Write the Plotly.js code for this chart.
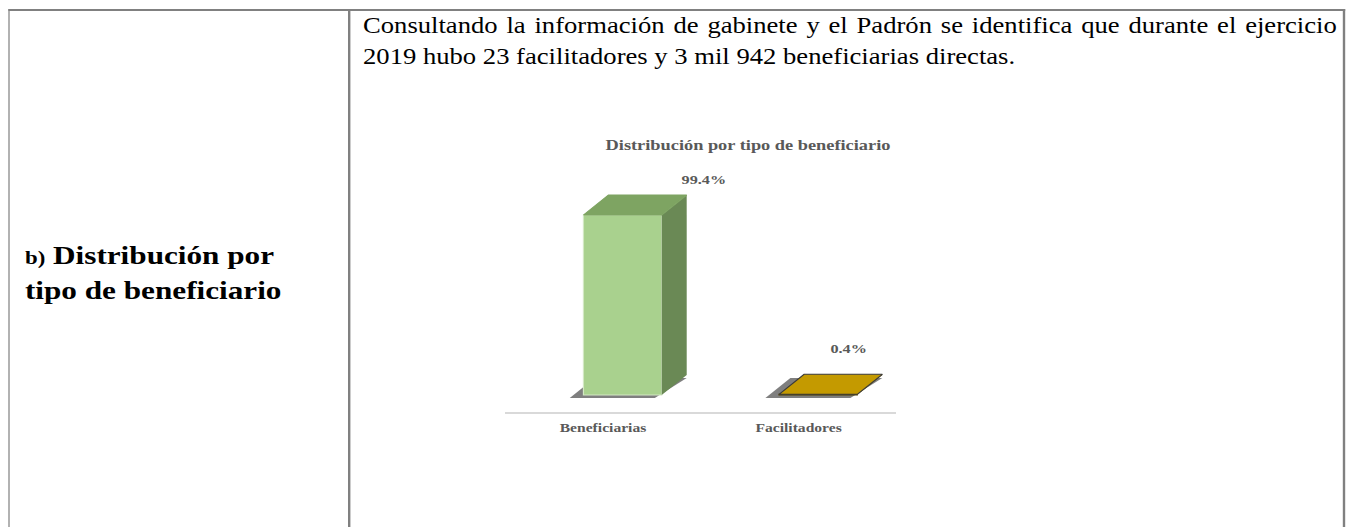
<!DOCTYPE html>
<html>
<head>
<meta charset="utf-8">
<script src="https://cdn.plot.ly/plotly-3.0.1.min.js"></script>
<style>
  html, body { margin: 0; padding: 0; background: #fff; overflow: hidden; }
  #page { position: absolute; left: 0; top: 0; width: 1128px; height: 527px;
          transform: scaleX(1.2); transform-origin: 0 0; font-family: "Liberation Serif", "Times New Roman", serif; }
  .hline { position: absolute; background: #808080; }
  #para { position: absolute; left: 302.5px; top: 9.5px; width: 811.5px; font-size: 22.2px; line-height: 31.7px;
          text-align: justify; color: #000; }
  #side { position: absolute; left: 20.8px; top: 239px; font-size: 26px; line-height: 33px; font-weight: bold; color: #000; }
  #side .small { font-size: 19px; }
  #chart { position: absolute; left: 400px; top: 120px; width: 370px; height: 330px; }
</style>
</head>
<body>
<div id="page">
  <div class="hline" style="left:7px; top:9px; width:1114px; height:2px;"></div>
  <div class="hline" style="left:6.7px; top:9px; width:1.7px; height:520px;"></div>
  <div class="hline" style="left:289.9px; top:9px; width:1.7px; height:520px;"></div>
  <div class="hline" style="left:1119.3px; top:9px; width:1.7px; height:520px;"></div>
  <div id="para">Consultando la información de gabinete y el Padrón se identifica que durante el ejercicio 2019 hubo 23 facilitadores y 3 mil 942 beneficiarias directas.</div>
  <div id="side"><span class="small">b)</span> Distribución por<br>tipo de beneficiario</div>
  <div id="chart"></div>
</div>
<script>
// datos
var categorias = ['Beneficiarias', 'Facilitadores'];
var porcentajes = [99.4, 0.4];
var etiquetas = ['99.4%', '0.4%'];

// estilo
var colorFrente = ['#A9D18E', '#C49A00'];
var colorBordeFrente = ['#D3E8C4', '#4a3c00'];
var colorLado = ['#6A8955', '#7d6300'];
var colorArriba = ['#7EA462', '#C49A00'];
var colorBordeArriba = ['#7EA462', '#3a3a3a'];
var desplX = [68, 25];
var desplY = [36, 46];
var IZQ = -0.1, DER = 0.3, PROF_X = 0.128, PROF_Y = 11;
var fuente = '"Liberation Serif", "Times New Roman", serif';

var idx = categorias.map(function (c, i) { return i; });

var data = [{
    x: idx.map(function (i) { return i + (IZQ + DER) / 2; }),
    y: porcentajes,
    type: 'bar',
    width: DER - IZQ,
    marker: { color: colorFrente, line: { color: colorBordeFrente, width: 1 } },
    hoverinfo: 'skip'
}];

var shapes = [];
idx.forEach(function (i) {
    var v = porcentajes[i];
    var x0 = i + IZQ, x1 = i + DER;
    // lado derecho
    data.push({
        x: [x1, x1, x1 + PROF_X, x1 + PROF_X, x1],
        y: [0, v, v + PROF_Y, PROF_Y, 0],
        type: 'scatter', mode: 'lines', fill: 'toself',
        fillcolor: colorLado[i], line: { width: 0 }, hoverinfo: 'skip'
    });
    // cara superior
    data.push({
        x: [x0, x1, x1 + PROF_X, x0 + PROF_X, x0],
        y: [v, v, v + PROF_Y, v + PROF_Y, v],
        type: 'scatter', mode: 'lines', fill: 'toself',
        fillcolor: colorArriba[i], line: { width: 1, color: colorBordeArriba[i] }, hoverinfo: 'skip'
    });
    // sombra de la base
    var s = 0.07, d = 1.6;
    shapes.push({
        type: 'path', xref: 'x', yref: 'y', layer: 'below',
        path: 'M' + (x0 - s) + ',' + (-d) + ' L' + (x1 - s / 2) + ',' + (-d) +
              ' L' + (x1 + PROF_X) + ',' + (PROF_Y - d) + ' L' + (x0 + PROF_X - s) + ',' + (PROF_Y - d) + ' Z',
        fillcolor: 'rgba(0,0,0,0.5)', line: { width: 0 }
    });
});

var anotaciones = idx.map(function (i) {
    return {
        x: i + (IZQ + DER) / 2, y: porcentajes[i], xref: 'x', yref: 'y',
        text: etiquetas[i], showarrow: false, xshift: desplX[i], yshift: desplY[i],
        font: { family: fuente, size: 13.5, color: '#595959', weight: 'bold' }
    };
});

var layout = {
    width: 370, height: 330,
    margin: { l: 20.8, r: 22.5, t: 30, b: 38 },
    paper_bgcolor: 'rgba(0,0,0,0)', plot_bgcolor: 'rgba(0,0,0,0)',
    showlegend: false,
    title: {
        text: 'Distribución por tipo de beneficiario',
        x: 0.6036, xref: 'container', xanchor: 'center',
        y: 0.9242, yref: 'container', yanchor: 'middle',
        font: { family: fuente, size: 15.3, color: '#595959', weight: 'bold' }
    },
    xaxis: {
        range: [-0.5, 1.5], tickvals: idx, ticktext: categorias,
        showline: true, linecolor: '#d9d9d9', linewidth: 1.5,
        showgrid: false, zeroline: false, ticks: '', ticklabelstandoff: 3,
        tickfont: { family: fuente, size: 13, color: '#595959', weight: 'bold' }
    },
    yaxis: { range: [-9.39, 135.3], visible: false, showgrid: false, zeroline: false },
    shapes: shapes,
    annotations: anotaciones
};

Plotly.newPlot('chart', data, layout, { staticPlot: true, displayModeBar: false });
</script>
</body>
</html>
